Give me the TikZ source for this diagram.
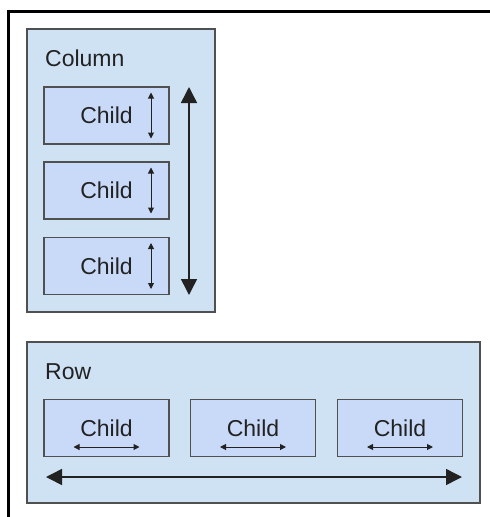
\documentclass[tikz,border=0pt]{standalone}
\usepackage{fontspec}
\setmainfont{Liberation Sans}
\usetikzlibrary{arrows.meta,calc}
\definecolor{panelblue}{HTML}{CFE2F3}
\definecolor{childblue}{HTML}{C9DAF8}
\definecolor{edgegray}{HTML}{505050}
\definecolor{inkgray}{HTML}{222222}
\tikzset{
  panel/.style={draw=edgegray, fill=panelblue, line width=1.3pt, inner sep=0pt},
  childbox/.style={draw=edgegray, fill=childblue, line width=1.3pt, inner sep=0pt,
    minimum width=125pt, minimum height=57pt},
  paneltitle/.style={anchor=west, inner sep=0pt},
  smallarrow/.style={<->, >={Triangle[length=6pt,width=6pt]}, line width=1pt, draw=inkgray},
  bigarrow/.style={<->, >={Triangle[length=16pt,width=16pt]}, line width=1.5pt, draw=inkgray}
}
\begin{document}
\begin{tikzpicture}[x=1pt, y=-1pt, font=\fontsize{23}{27}\selectfont, text=inkgray]
    \useasboundingbox (0,0) rectangle (490,517);
    % Frame
    \draw[line width=3pt] (8,517) -- (8,11) -- (490,11);

    % Column panel
    \node[panel, minimum width=188pt, minimum height=283pt] (col) at (121,170.5) {};
    \node[paneltitle] (coltitle) at (45,58) {Column};
    \foreach \i/\y in {1/115.5, 2/190.5, 3/266} {
        \node[childbox] (c\i) at (106.5,\y) {Child};
        \coordinate (c\i top) at ($(c\i.center)+(44.5,-23)$);
        \coordinate (c\i bot) at ($(c\i.center)+(44.5,23)$);
        \draw[smallarrow] (c\i top) -- (c\i bot);
    }
    \coordinate (coltop) at (189,87);
    \coordinate (colbot) at (189,295);
    \draw[bigarrow] (coltop) -- (colbot);

    % Row panel
    \node[panel, minimum width=453pt, minimum height=161pt] (row) at (253.5,422.5) {};
    \node[paneltitle] (rowtitle) at (45,372) {Row};
    \foreach \i/\x in {1/106.5, 2/253, 3/400} {
        \node[childbox] (r\i) at (\x,428) {Child};
        \coordinate (r\i left) at ($(r\i.center)+(-33,19)$);
        \coordinate (r\i right) at ($(r\i.center)+(33,19)$);
        \draw[smallarrow] (r\i left) -- (r\i right);
    }
    \coordinate (rowleft) at (46,477);
    \coordinate (rowright) at (462,477);
    \draw[bigarrow] (rowleft) -- (rowright);
\end{tikzpicture}
\end{document}
